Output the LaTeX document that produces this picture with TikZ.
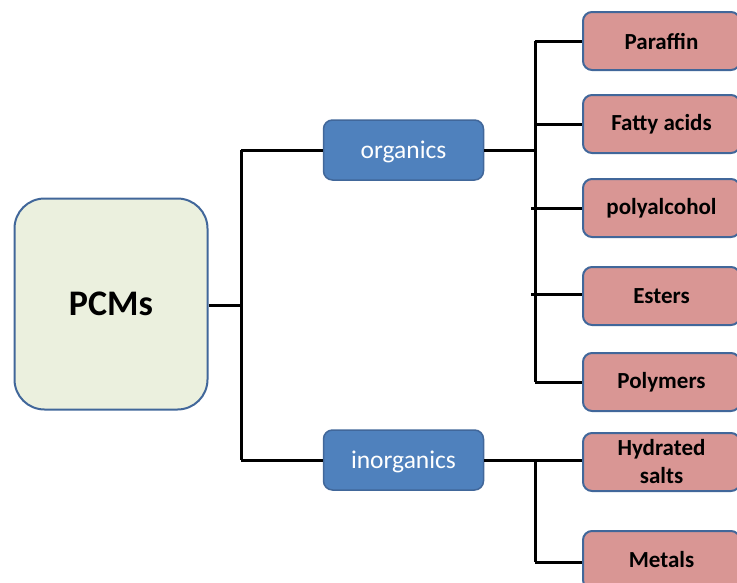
\documentclass[tikz,border=0pt]{standalone}
\usepackage{fontspec}
\setmainfont{Carlito}
\definecolor{edgeblue}{HTML}{41679A}
\definecolor{rootfill}{HTML}{EBF0DE}
\definecolor{midfill}{HTML}{4F81BD}
\definecolor{leaffill}{HTML}{D99694}
\tikzset{
  rootbox/.style={draw=edgeblue, line width=2pt, fill=rootfill, rounded corners=30pt,
    minimum width=193pt, minimum height=211pt, inner sep=0pt,
    font=\fontsize{36}{40}\selectfont\bfseries},
  midbox/.style={draw=edgeblue, line width=1.5pt, fill=midfill, rounded corners=9pt,
    minimum width=160pt, minimum height=60pt, inner sep=0pt, text=white,
    text height=18pt, text depth=2pt,
    font=\fontsize{25.5}{28}\selectfont},
  leafbox/.style={draw=edgeblue, line width=2pt, fill=leaffill, rounded corners=9pt,
    minimum width=157pt, minimum height=58pt, inner sep=0pt, align=center,
    font=\fontsize{23}{28}\selectfont\bfseries},
  conn/.style={line width=3pt, black}
}
\begin{document}
\begin{tikzpicture}[x=1pt,y=-1pt]
\useasboundingbox (0,0) rectangle (737,582);
\begin{scope}
\clip (0,0) rectangle (737,582);
% junctions
\coordinate (j1) at (241,305);
\coordinate (j1t) at (241,150);
\coordinate (j1b) at (241,460);
\coordinate (j2t) at (535,41);
\coordinate (j2m) at (535,150);
\coordinate (j2b) at (535,382);
\coordinate (j3t) at (535,460);
\coordinate (j3b) at (535,562);
% nodes
\node[rootbox] (pcm) at (111,304) {PCMs};
\node[midbox] (org) at (403.5,150) {organics};
\node[midbox] (inorg) at (403.5,460) {inorganics};
\node[leafbox] (par) at (661.5,41) {Paraffin};
\node[leafbox] (fat) at (661.5,124) {Fatty acids};
\node[leafbox] (pol) at (661.5,208) {polyalcohol};
\node[leafbox] (est) at (661.5,296) {Esters};
\node[leafbox] (poly) at (661.5,382) {Polymers};
\node[leafbox] (hyd) at (661.5,462) {Hydrated\\salts};
\node[leafbox] (met) at (661.5,560) {Metals};
% connectors
\draw[conn] (pcm.east |- j1) -- (j1);
\draw[conn] (j1t) -- (j1b);
\draw[conn] (j1t) -- (org.west |- j1t);
\draw[conn] (j1b) -- (inorg.west |- j1b);
\draw[conn] (org.east) -- (j2m);
\draw[conn] (j2t) -- (j2b);
\draw[conn] (j2t) -- (par.west |- j2t);
\draw[conn] (535,124) -- (fat.west |- 0,124);
\draw[conn] (531,208) -- (pol.west |- 0,208);
\draw[conn] (531,294) -- (est.west |- 0,294);
\draw[conn] (j2b) -- (poly.west |- j2b);
\draw[conn] (inorg.east) -- (hyd.west |- j3t);
\draw[conn] (j3t) -- (j3b);
\draw[conn] (j3b) -- (met.west |- j3b);
\end{scope}
\end{tikzpicture}
\end{document}
